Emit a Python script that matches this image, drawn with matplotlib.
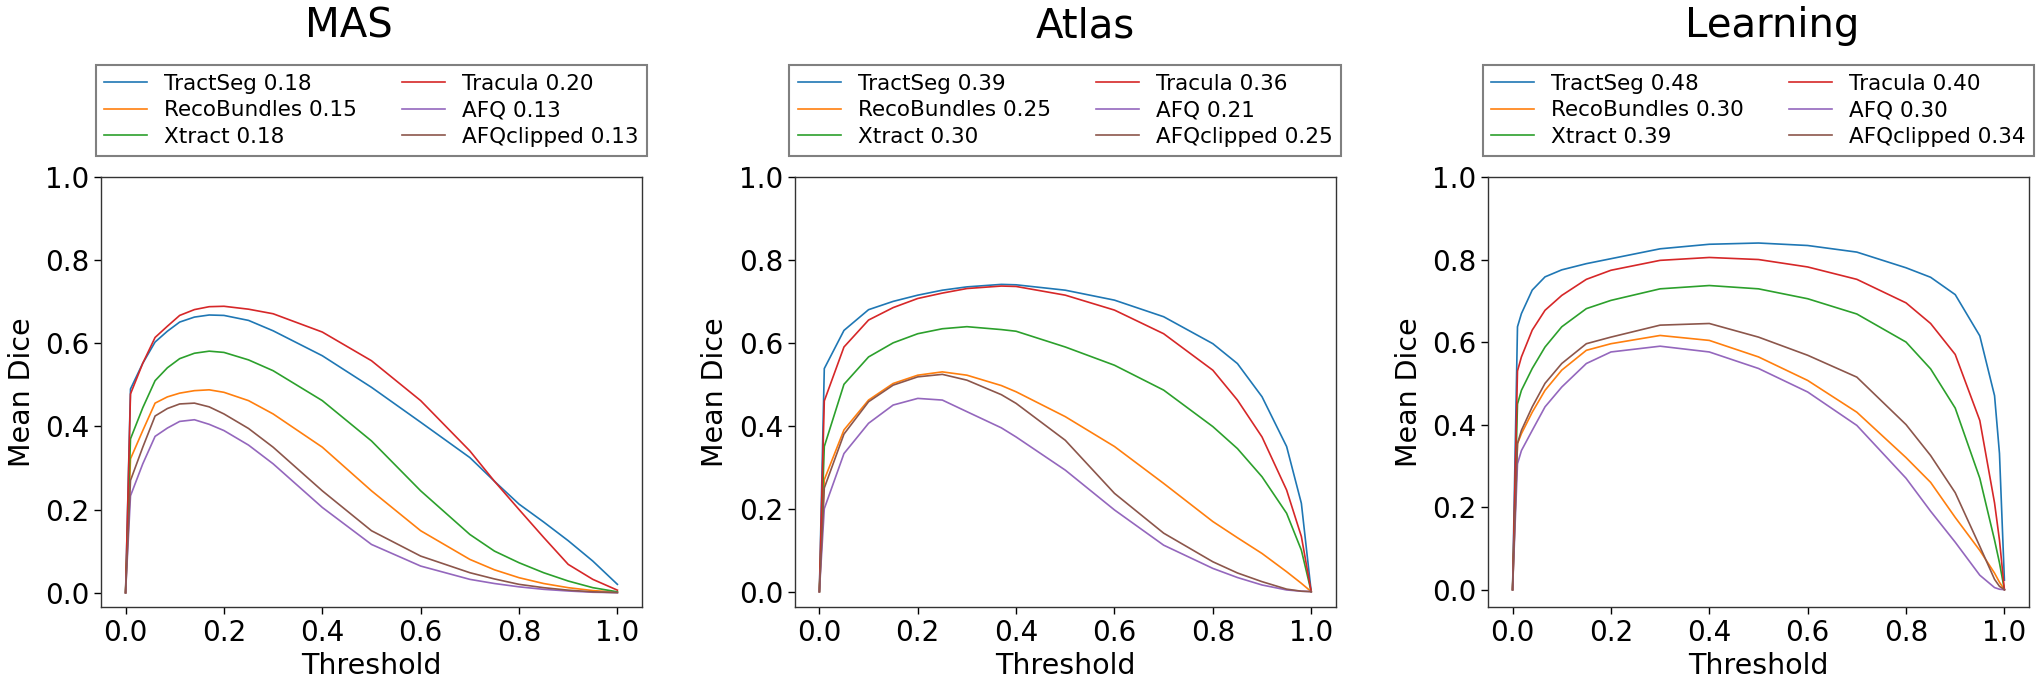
import matplotlib.pyplot as plt

methods = ["TractSeg", "RecoBundles", "Xtract", "Tracula", "AFQ", "AFQclipped"]
colors = ["tab:blue", "tab:orange", "tab:green", "tab:red", "tab:purple", "tab:brown"]
panels = ["MAS", "Atlas", "Learning"]

# mean dice per method (legend numbers)
mas_scores = [0.18, 0.15, 0.18, 0.20, 0.13, 0.13]
atlas_scores = [0.39, 0.25, 0.30, 0.36, 0.21, 0.25]
learning_scores = [0.48, 0.30, 0.39, 0.40, 0.30, 0.34]

# MAS curves, rows follow `methods`
mas_thr = [0, 0.01, 0.035, 0.06, 0.085, 0.11, 0.14, 0.17, 0.2, 0.25, 0.3, 0.4, 0.5,
           0.6, 0.7, 0.75, 0.8, 0.85, 0.9, 0.95, 1.0]
mas_dice = [
    [0, 0.49, 0.552, 0.603, 0.629, 0.651, 0.663, 0.668, 0.667, 0.655, 0.63, 0.57, 0.494,
     0.41, 0.325, 0.268, 0.213, 0.17, 0.125, 0.076, 0.02],
    [0, 0.322, 0.39, 0.456, 0.471, 0.48, 0.486, 0.488, 0.482, 0.462, 0.43, 0.35, 0.245,
     0.149, 0.08, 0.055, 0.036, 0.022, 0.012, 0.005, 0.001],
    [0, 0.37, 0.445, 0.51, 0.541, 0.563, 0.576, 0.581, 0.578, 0.56, 0.534, 0.462, 0.365,
     0.245, 0.14, 0.10, 0.072, 0.048, 0.028, 0.012, 0.002],
    [0, 0.478, 0.552, 0.614, 0.641, 0.667, 0.681, 0.688, 0.689, 0.682, 0.671, 0.627, 0.558,
     0.462, 0.341, 0.268, 0.20, 0.133, 0.068, 0.032, 0.006],
    [0, 0.233, 0.31, 0.376, 0.396, 0.412, 0.416, 0.405, 0.39, 0.355, 0.31, 0.205, 0.116,
     0.064, 0.032, 0.022, 0.014, 0.008, 0.004, 0.001, 0.0],
    [0, 0.27, 0.35, 0.425, 0.443, 0.454, 0.456, 0.447, 0.43, 0.395, 0.35, 0.245, 0.149,
     0.088, 0.048, 0.033, 0.02, 0.012, 0.006, 0.002, 0.0],
]

atlas_thr = [0, 0.01, 0.05, 0.1, 0.15, 0.2, 0.25, 0.3, 0.37, 0.4, 0.5, 0.6, 0.7, 0.8,
             0.85, 0.9, 0.95, 0.98, 1.0]
atlas_dice = [
    [0, 0.538, 0.63, 0.68, 0.70, 0.715, 0.727, 0.735, 0.741, 0.740, 0.727, 0.703, 0.663,
     0.598, 0.55, 0.47, 0.35, 0.213, 0.0],
    [0, 0.27, 0.39, 0.462, 0.502, 0.522, 0.53, 0.522, 0.497, 0.482, 0.422, 0.35, 0.261,
     0.169, 0.13, 0.092, 0.048, 0.02, 0.0],
    [0, 0.35, 0.50, 0.566, 0.60, 0.622, 0.634, 0.639, 0.632, 0.628, 0.59, 0.546, 0.486,
     0.398, 0.345, 0.277, 0.189, 0.10, 0.0],
    [0, 0.46, 0.59, 0.655, 0.685, 0.707, 0.72, 0.731, 0.737, 0.736, 0.715, 0.679, 0.622,
     0.534, 0.462, 0.373, 0.245, 0.133, 0.0],
    [0, 0.20, 0.333, 0.406, 0.45, 0.466, 0.462, 0.434, 0.395, 0.373, 0.293, 0.197, 0.112,
     0.056, 0.034, 0.016, 0.004, 0.001, 0.0],
    [0, 0.25, 0.38, 0.458, 0.498, 0.518, 0.524, 0.51, 0.475, 0.454, 0.365, 0.237, 0.141,
     0.072, 0.045, 0.024, 0.006, 0.001, 0.0],
]

learning_thr = [0, 0.01, 0.018, 0.04, 0.066, 0.1, 0.15, 0.2, 0.3, 0.4, 0.5, 0.6, 0.7,
                0.8, 0.85, 0.9, 0.95, 0.98, 0.99, 1.0]
learning_dice = [
    [0, 0.637, 0.669, 0.726, 0.758, 0.775, 0.79, 0.802, 0.826, 0.837, 0.84, 0.834, 0.818,
     0.78, 0.757, 0.715, 0.615, 0.47, 0.33, 0.023],
    [0, 0.354, 0.378, 0.43, 0.483, 0.532, 0.58, 0.596, 0.616, 0.604, 0.564, 0.507, 0.43,
     0.32, 0.26, 0.175, 0.095, 0.04, 0.018, 0.0],
    [0, 0.45, 0.483, 0.536, 0.588, 0.637, 0.681, 0.701, 0.729, 0.737, 0.729, 0.705, 0.668,
     0.60, 0.535, 0.44, 0.27, 0.12, 0.065, 0.0],
    [0, 0.53, 0.564, 0.629, 0.677, 0.713, 0.752, 0.774, 0.798, 0.805, 0.80, 0.782, 0.752,
     0.695, 0.645, 0.57, 0.41, 0.21, 0.12, 0.0],
    [0, 0.305, 0.337, 0.386, 0.443, 0.491, 0.548, 0.576, 0.59, 0.576, 0.536, 0.479, 0.398,
     0.27, 0.19, 0.115, 0.035, 0.005, 0.001, 0.0],
    [0, 0.354, 0.386, 0.443, 0.50, 0.548, 0.596, 0.612, 0.641, 0.645, 0.612, 0.568, 0.515,
     0.40, 0.325, 0.235, 0.105, 0.025, 0.008, 0.0],
]

thresholds = [mas_thr, atlas_thr, learning_thr]
dices = [mas_dice, atlas_dice, learning_dice]
scores = [mas_scores, atlas_scores, learning_scores]

fig = plt.figure(figsize=(20.4, 6.85), dpi=100)
boxes = [
    [0.0495, 0.1139, 0.2652, 0.6277],
    [0.3896, 0.1139, 0.2652, 0.6277],
    [0.7294, 0.1139, 0.2652, 0.6277],
]
title_x = [0.458, 0.537, 0.525]

for i, name in enumerate(panels):
    ax = fig.add_axes(boxes[i])
    for j, m in enumerate(methods):
        ax.plot(thresholds[i], dices[i][j], color=colors[j], lw=1.2,
                label=f"{m} {scores[i][j]:.2f}")
    ax.set_ylim(top=1.0)
    ax.set_xticks([0.0, 0.2, 0.4, 0.6, 0.8, 1.0])
    ax.set_yticks([0.0, 0.2, 0.4, 0.6, 0.8, 1.0])
    ax.tick_params(labelsize=20, length=4.8, width=1.0)
    for s in ax.spines.values():
        s.set_color("#333333")
        s.set_linewidth(1.0)
    ax.set_xlabel("Threshold", fontsize=20.5)
    ax.set_ylabel("Mean Dice", fontsize=20.5)
    ax.yaxis.set_label_coords(-0.121, 0.5)
    ax.text(title_x[i], 1.325, name, transform=ax.transAxes, ha="center",
            va="baseline", fontsize=29)
    leg = ax.legend(loc="lower left", bbox_to_anchor=(-0.01, 1.05, 1.02, 0.2),
                    mode="expand", ncol=2, fontsize=15.5, borderaxespad=0,
                    fancybox=False, framealpha=1, edgecolor="#808080",
                    labelspacing=0.3)
    leg.get_frame().set_linewidth(1.5)

plt.savefig("out.png", dpi=100)
